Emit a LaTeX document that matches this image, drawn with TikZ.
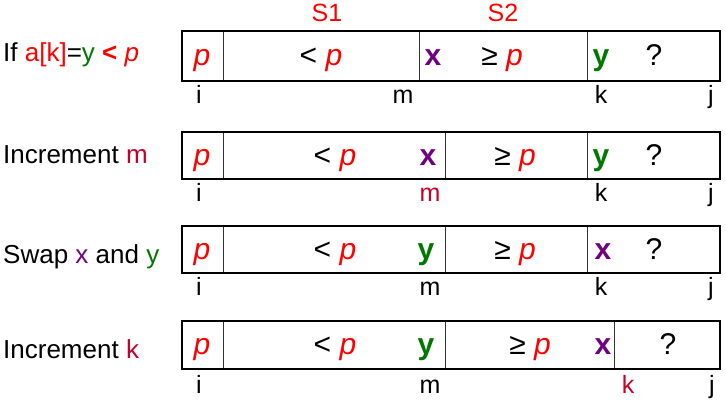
\documentclass[tikz,border=0pt]{standalone}
\usepackage{fontspec}
\setmainfont{Liberation Sans}
\definecolor{pivred}{RGB}{255,0,0}
\definecolor{ptrred}{RGB}{200,0,40}
\definecolor{xpurple}{RGB}{112,0,128}
\definecolor{ygreen}{RGB}{0,120,0}
\newcommand{\pv}{\textcolor{pivred}{\textit{p}}}
\newcommand{\xv}{\textcolor{xpurple}{\textbf{x}}}
\newcommand{\yv}{\textcolor{ygreen}{\textbf{y}}}

\begin{document}
\begin{tikzpicture}[x=1pt,y=-1pt,
  every node/.style={inner sep=0pt},
  lbl/.style={anchor=base west,font=\fontsize{26}{30}\selectfont},
  cell/.style={anchor=base,font=\fontsize{30}{34}\selectfont},
  idx/.style={anchor=base,font=\fontsize{25}{28}\selectfont},
  part/.style={black!80,line width=1pt},
  arr/.style={black,line width=2pt}]
\useasboundingbox (0,0) rectangle (726,408);

% row 1: compare
\node[idx,text=pivred] (s1) at (327,21) {S1};
\node[idx,text=pivred] (s2) at (503,21) {S2};
\node[lbl] (l1) at (3,61) {If \textcolor{pivred}{a[k]}=\textcolor{ygreen}{y} \textcolor{pivred}{\textbf{<} \textit{p}}};
\draw[part] (223,31)--(223,81) (419,31)--(419,81) (587,31)--(587,81);
\draw[arr] (182,31) rectangle (720,81);
\node[cell] (p1) at (202,65) {\pv};
\node[cell] (lt1) at (321,65) {< \pv};
\node[cell] (x1) at (433,65) {\xv};
\node[cell] (ge1) at (502,65) {≥ \pv};
\node[cell] (y1) at (601,65) {\yv};
\node[cell] (q1) at (654,65) {?};
\node[idx] (i1) at (199,103) {i};
\node[idx] (m1) at (403,103) {m};
\node[idx] (k1) at (601,103) {k};
\node[idx] (j1) at (711,103) {j};

% row 2: increment m
\node[lbl] (l2) at (3,163) {Increment \textcolor{ptrred}{m}};
\draw[part] (223,132)--(223,179) (445,132)--(445,179) (587,132)--(587,179);
\draw[arr] (182,132) rectangle (720,179);
\node[cell] (p2) at (202,165) {\pv};
\node[cell] (lt2) at (335,165) {< \pv};
\node[cell] (x2) at (428,165) {\xv};
\node[cell] (ge2) at (515,165) {≥ \pv};
\node[cell] (y2) at (601,165) {\yv};
\node[cell] (q2) at (654,165) {?};
\node[idx] (i2) at (199,201) {i};
\node[idx,text=ptrred] (m2) at (430,201) {m};
\node[idx] (k2) at (601,201) {k};
\node[idx] (j2) at (711,201) {j};

% row 3: swap
\node[lbl] (l3) at (3,263) {Swap \textcolor{xpurple}{x} and \textcolor{ygreen}{y}};
\draw[part] (223,226)--(223,273) (445,226)--(445,273) (587,226)--(587,273);
\draw[arr] (182,226) rectangle (720,273);
\node[cell] (p3) at (202,259) {\pv};
\node[cell] (lt3) at (335,259) {< \pv};
\node[cell] (y3) at (426,259) {\yv};
\node[cell] (ge3) at (515,259) {≥ \pv};
\node[cell] (x3) at (603,259) {\xv};
\node[cell] (q3) at (654,259) {?};
\node[idx] (i3) at (199,295) {i};
\node[idx] (m3) at (430,295) {m};
\node[idx] (k3) at (601,295) {k};
\node[idx] (j3) at (711,295) {j};

% row 4: increment k
\node[lbl] (l4) at (3,358) {Increment \textcolor{ptrred}{k}};
\draw[part] (223,321)--(223,369) (445,321)--(445,369) (614,321)--(614,369);
\draw[arr] (182,321) rectangle (720,369);
\node[cell] (p4) at (202,354) {\pv};
\node[cell] (lt4) at (335,354) {< \pv};
\node[cell] (y4) at (426,354) {\yv};
\node[cell] (ge4) at (530,354) {≥ \pv};
\node[cell] (x4) at (603,354) {\xv};
\node[cell] (q4) at (668,354) {?};
\node[idx] (i4) at (199,393) {i};
\node[idx] (m4) at (430,393) {m};
\node[idx,text=ptrred] (k4) at (628,393) {k};
\node[idx] (j4) at (712,393) {j};
\end{tikzpicture}
\end{document}
